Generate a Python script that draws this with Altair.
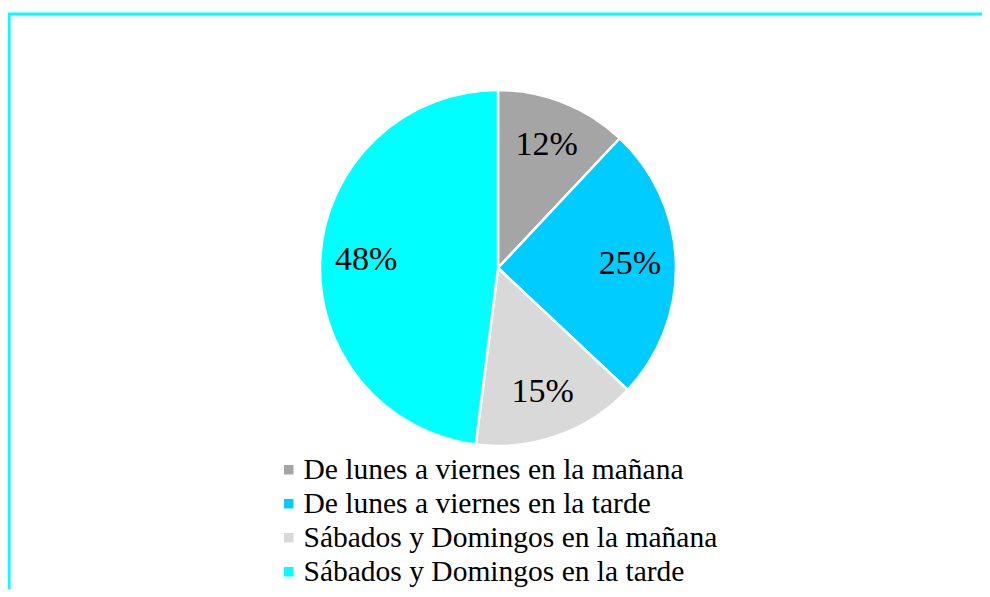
import altair as alt
import pandas as pd

categories = [
    "De lunes a viernes en la mañana",
    "De lunes a viernes en la tarde",
    "Sábados y Domingos en la mañana",
    "Sábados y Domingos en la tarde",
]
values = [12, 25, 15, 48]
labels = ["12%", "25%", "15%", "48%"]
colors = ["#A5A5A5", "#00CCFF", "#D9D9D9", "#00FFFF"]

df = pd.DataFrame({
    "cat": categories,
    "value": values,
    "label": labels,
    "idx": list(range(len(categories))),
})

CX, CY = 490, 260
R = 178
FONT = "Liberation Serif"

base = alt.Chart(df).encode(
    theta=alt.Theta("value:Q", stack=True),
    order=alt.Order("idx:Q"),
)

pie = base.mark_arc(radius=R, stroke="white", strokeWidth=2.5).encode(
    x=alt.value(CX),
    y=alt.value(CY),
    color=alt.Color(
        "cat:N",
        scale=alt.Scale(domain=categories, range=colors),
        sort=categories,
        legend=alt.Legend(
            title=None,
            orient="none",
            legendX=266,
            legendY=447,
            symbolType="square",
            symbolSize=90,
            symbolStrokeWidth=0,
            labelFont=FONT,
            labelFontSize=29.5,
            labelColor="black",
            labelOffset=0,
            rowPadding=3,
            labelLimit=700,
        ),
    ),
)

text = base.mark_text(radius=132, font=FONT, fontSize=34, color="black").encode(
    x=alt.value(CX),
    y=alt.value(CY),
    text="label:N",
)

frame_df = pd.DataFrame({"k": [0]})
top_line = alt.Chart(frame_df).mark_rule(color="#00FFFF", strokeWidth=3).encode(
    x=alt.value(0), x2=alt.value(990), y=alt.value(6)
)
left_line = alt.Chart(frame_df).mark_rule(color="#00FFFF", strokeWidth=3).encode(
    x=alt.value(1), y=alt.value(5), y2=alt.value(600)
)

chart = alt.layer(top_line, left_line, pie, text).properties(
    width=974,
    height=581,
    padding=0,
    autosize=alt.AutoSizeParams(type="none"),
).configure_view(stroke=None)

chart.save("out.html", embed_options={"renderer": "svg", "actions": False})
